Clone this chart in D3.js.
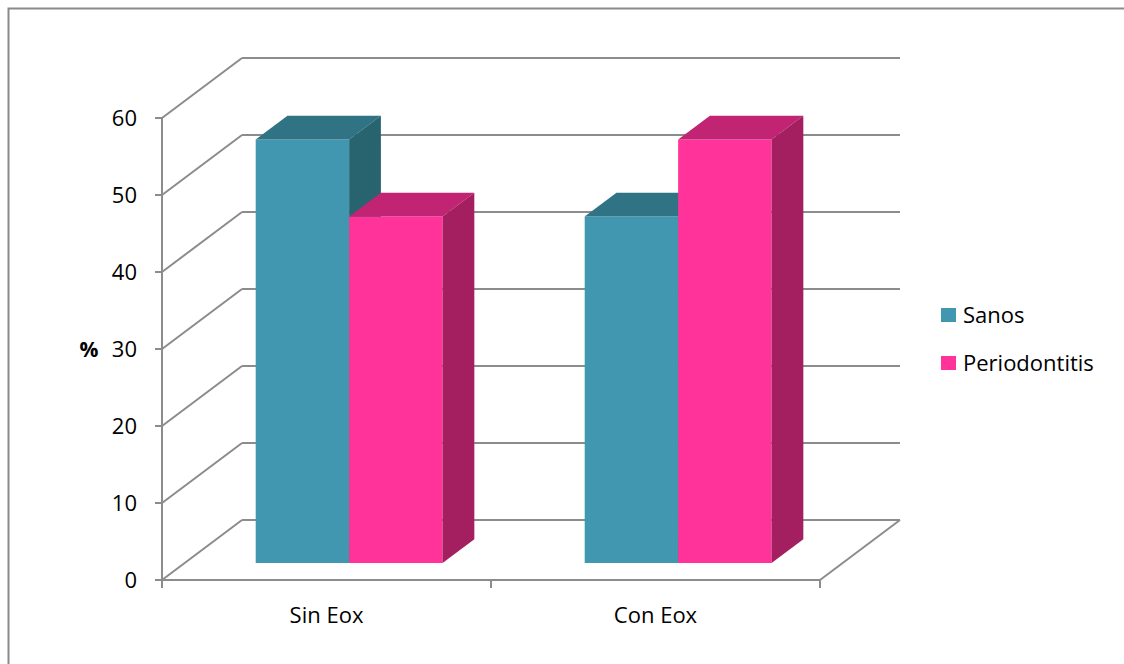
<!DOCTYPE html>
<html>
<head>
<meta charset="utf-8">
<script src="https://cdn.jsdelivr.net/npm/d3@7"></script>
<style>
  body { margin: 0; background: #fff; }
  svg { display: block; font-family: "Open Sans", "Noto Sans", sans-serif; }
</style>
</head>
<body>
<div id="chart"></div>
<script>
// chart data
const categories = ['Sin Eox', 'Con Eox'];
const seriesNames = ['Sanos', 'Periodontitis'];
const sanos = [55, 45];
const periodontitis = [45, 55];
const yTicks = [0, 10, 20, 30, 40, 50, 60];

const W = 1124, H = 664;
const svg = d3.select('#chart').append('svg')
    .attr('width', W)
    .attr('height', H);

// outer frame
svg.append('rect')
    .attr('x', 8.5).attr('y', 8.5)
    .attr('width', W).attr('height', H)
    .attr('fill', 'none')
    .attr('stroke', '#8a8a8a')
    .attr('stroke-width', 2);

// front plane scales, plus depth offset
const left = 162, right = 820;
const depthX = 80, depthY = 60;
const y = d3.scaleLinear().domain([0, 60]).range([580, 118]);
const x0 = d3.scaleBand().domain(categories).range([left, right]);
const gap = x0.bandwidth() * 0.216;
const x1 = d3.scaleBand().domain(seriesNames).range([gap, x0.bandwidth() - gap]);

// project a point given front x, value and depth fraction
function pt(px, v, d) {
    return [px + d * depthX, y(v) - d * depthY];
}

const gridColor = '#8c8c8c';
const grid = svg.append('g')
    .attr('stroke', gridColor)
    .attr('stroke-width', 2)
    .attr('fill', 'none');

yTicks.forEach(t => {
    // back wall line
    grid.append('line')
        .attr('x1', pt(left, t, 1)[0]).attr('y1', pt(left, t, 1)[1])
        .attr('x2', pt(right, t, 1)[0]).attr('y2', pt(right, t, 1)[1]);
    // side wall diagonal
    grid.append('line')
        .attr('x1', left).attr('y1', y(t))
        .attr('x2', pt(left, t, 1)[0]).attr('y2', pt(left, t, 1)[1]);
    // tick
    grid.append('line')
        .attr('x1', left - 7).attr('y1', y(t))
        .attr('x2', left).attr('y2', y(t));
});

// vertical axis
grid.append('line')
    .attr('x1', left).attr('y1', y(60))
    .attr('x2', left).attr('y2', y(0));
// floor front edge and right edge
grid.append('line')
    .attr('x1', left).attr('y1', y(0))
    .attr('x2', right).attr('y2', y(0));
grid.append('line')
    .attr('x1', right).attr('y1', y(0))
    .attr('x2', pt(right, 0, 1)[0]).attr('y2', pt(right, 0, 1)[1]);

// category ticks
[left, x0('Con Eox'), right].forEach(px => {
    grid.append('line')
        .attr('x1', px).attr('y1', y(0))
        .attr('x2', px).attr('y2', y(0) + 8);
});

// y labels
svg.append('g').selectAll('text')
    .data(yTicks)
    .enter().append('text')
    .attr('x', 137)
    .attr('y', d => y(d) + 8)
    .attr('text-anchor', 'end')
    .style('font-size', '22px')
    .style('fill', '#000')
    .text(d => d);

svg.append('text')
    .attr('x', 89)
    .attr('y', y(30) + 8)
    .attr('text-anchor', 'middle')
    .style('font-size', '21px')
    .style('font-weight', 'bold')
    .text('%');

// category labels
svg.append('g').selectAll('text')
    .data(categories)
    .enter().append('text')
    .attr('x', d => x0(d) + x0.bandwidth() / 2)
    .attr('y', 623)
    .attr('text-anchor', 'middle')
    .style('font-size', '22px')
    .text(d => d);

// bars
const colors = {
    Sanos: { front: '#4297b0', top: '#2f7384', side: '#27646f' },
    Periodontitis: { front: '#ff3399', top: '#c22474', side: '#a31f5f' }
};
const dFront = 0.283, dBack = 0.68;

const bars = [];
categories.forEach((c, i) => {
    bars.push({ cat: c, name: 'Sanos', value: sanos[i] });
    bars.push({ cat: c, name: 'Periodontitis', value: periodontitis[i] });
});

const poly = p => p.map(q => q.join(',')).join(' ');

const barG = svg.append('g');
bars.forEach(b => {
    const xa = x0(b.cat) + x1(b.name);
    const xb = xa + x1.bandwidth();
    const col = colors[b.name];
    const g = barG.append('g');
    // front face
    g.append('polygon')
        .attr('points', poly([pt(xa, 0, dFront), pt(xb, 0, dFront), pt(xb, b.value, dFront), pt(xa, b.value, dFront)]))
        .attr('fill', col.front);
    // top face
    g.append('polygon')
        .attr('points', poly([pt(xa, b.value, dFront), pt(xb, b.value, dFront), pt(xb, b.value, dBack), pt(xa, b.value, dBack)]))
        .attr('fill', col.top);
    // right side face
    g.append('polygon')
        .attr('points', poly([pt(xb, 0, dFront), pt(xb, 0, dBack), pt(xb, b.value, dBack), pt(xb, b.value, dFront)]))
        .attr('fill', col.side);
});

// legend
const legend = svg.append('g')
    .selectAll('g')
    .data(seriesNames)
    .enter().append('g')
    .attr('transform', (d, i) => `translate(941, ${308 + i * 48})`);

legend.append('rect')
    .attr('width', 15)
    .attr('height', 14)
    .attr('fill', d => colors[d].front);

legend.append('text')
    .attr('x', 22)
    .attr('y', 15)
    .style('font-size', '22px')
    .text(d => d);
</script>
</body>
</html>
